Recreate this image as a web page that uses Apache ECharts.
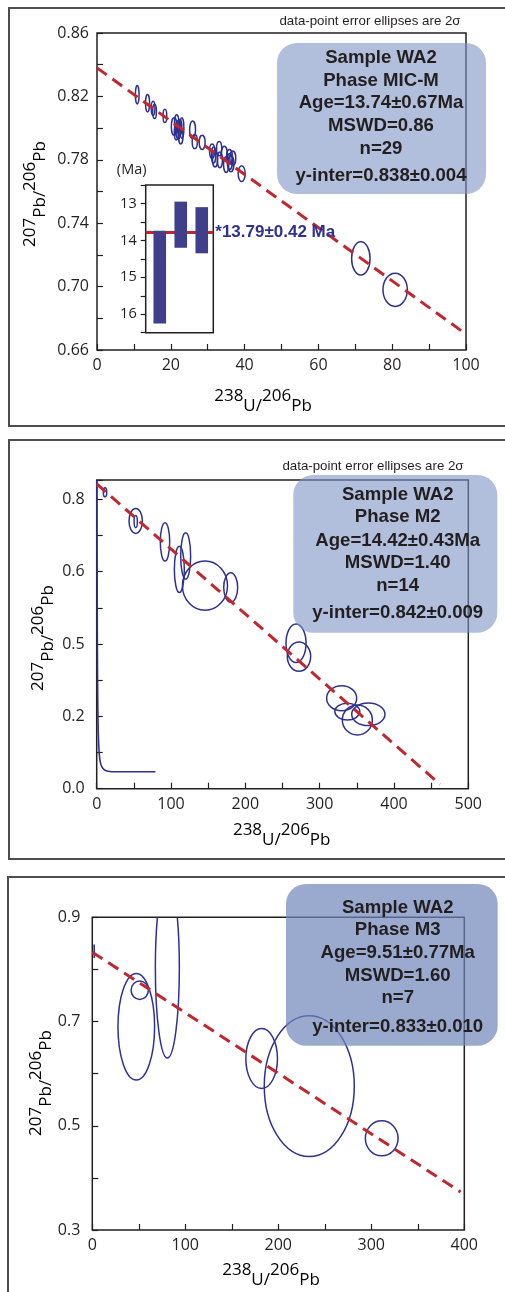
<!DOCTYPE html>
<html><head><meta charset="utf-8">
<script src="https://cdn.jsdelivr.net/npm/echarts@6/dist/echarts.min.js"></script>
<style>html,body{margin:0;padding:0;background:#fff}#c{width:505px;height:1292px}</style>
</head><body><div id="c"></div>
<script>
// ---------- Panel 1: Phase MIC-M ----------
const p1XTickLabels = ['0','20','40','60','80','100'];
const p1YTickLabels = ['0.66','0.70','0.74','0.78','0.82','0.86'];
// [x, y, rx, ry]
const p1Ellipses = [
  [10.9,0.8210,0.5,0.0058],[13.7,0.8157,0.55,0.0055],[15.2,0.8125,0.5,0.0045],[15.6,0.8105,0.5,0.0045],
  [18.4,0.8077,0.5,0.0042],[20.9,0.8010,0.75,0.0055],[21.6,0.8030,0.6,0.0055],[22.0,0.7990,0.65,0.0060],
  [22.4,0.8005,0.6,0.0050],[22.7,0.7950,0.6,0.0050],[21.5,0.7975,0.55,0.0050],[23.0,0.8000,0.55,0.0065],
  [25.9,0.7990,0.8,0.0055],[26.5,0.7915,0.7,0.0045],[28.5,0.7910,0.8,0.0045],[31.2,0.7855,0.7,0.0045],
  [31.6,0.7830,0.6,0.0050],[32.0,0.7805,0.7,0.0050],[33.1,0.7870,0.7,0.0045],[33.3,0.7800,0.7,0.0050],
  [34.5,0.7840,0.8,0.0045],[35.0,0.7770,0.7,0.0050],[35.9,0.7820,0.8,0.0045],[36.3,0.7775,0.8,0.0050],
  [36.8,0.7810,0.8,0.0045],[36.0,0.7790,0.7,0.0050],[39.2,0.7713,0.95,0.0050],
  [71.5,0.7178,2.5,0.0105],[80.8,0.6980,3.3,0.0105]
];
const p1Regression = [[0,0.838],[100,0.670]];
const p1Info = ['Sample WA2','Phase MIC-M','Age=13.74±0.67Ma','MSWD=0.86','n=29','y-inter=0.838±0.004'];
// inset (Ma)
const insetX = [1,2,3];
const insetLow = [13.74,12.95,13.10];
const insetHigh = [16.25,14.20,14.35];
const insetMean = 13.79;
const insetMeanLabel = '*13.79±0.42 Ma';
const insetTickLabels = ['13','14','15','16'];

// ---------- Panel 2: Phase M2 ----------
const p2XTickLabels = ['0','100','200','300','400','500'];
const p2YTickValues = [0,0.2,0.4,0.6,0.8];
const p2YTickLabels = ['0.0','0.2','0.5','0.6','0.8'];
const p2Ellipses = [
  [11.2,0.819,2.3,0.0124],[52.5,0.740,9,0.0345],[52.5,0.738,2.2,0.0166],[91.9,0.682,6.3,0.053],
  [111.2,0.606,6.7,0.064],[119.7,0.643,6.7,0.064],[145.7,0.561,30.3,0.068],[180.3,0.556,9.4,0.0405],
  [268.2,0.402,13.5,0.053],[272.2,0.365,15.7,0.0405],[329.6,0.250,20.2,0.0345],[337.2,0.213,16.8,0.023],
  [350.7,0.190,20.2,0.0414],[365.5,0.2055,22.4,0.031]
];
const p2Regression = [[0,0.842],[462,0.012]];
const p2Concordia = [[0.3,0.853],[0.6,0.6],[0.9,0.4],[1.4,0.25],[2.2,0.15],[3.5,0.095],[5,0.072],[7,0.060],[10,0.053],[14,0.049],[20,0.047],[79,0.047]];
const p2Info = ['Sample WA2','Phase M2','Age=14.42±0.43Ma','MSWD=1.40','n=14','y-inter=0.842±0.009'];

// ---------- Panel 3: Phase M3 ----------
const p3XTickLabels = ['0','100','200','300','400'];
const p3YTickLabels = ['0.3','0.5','0.7','0.9'];
const p3Ellipses = [
  [47.3,0.690,19.7,0.1023],[51,0.760,9.3,0.0176],[80.7,0.803,12.9,0.173],
  [182.1,0.629,17,0.0576],[233.3,0.576,48.4,0.135],[311.2,0.476,17.6,0.0336]
];
const p3Regression = [[0,0.833],[396,0.373]];
const p3Concordia = [[2.0,0.848],[2.2,0.822]];
const p3Info = ['Sample WA2','Phase M3','Age=9.51±0.77Ma','MSWD=1.60','n=7','y-inter=0.833±0.010'];

const noteText = 'data-point error ellipses are 2σ';

// ---------- helpers ----------
const INK = '#231f20', NAVY = '#2e3192', RED = '#c1272d';
const TICKFONT = 'Open Sans';
function fmt(labels, values) {
  const vals = values || labels.map(Number);
  return v => { for (let i = 0; i < vals.length; i++) if (Math.abs(vals[i] - v) < 1e-7) return labels[i]; return ''; };
}
function valAxis(gi, min, max, interval, labels, values, margin, extra) {
  return Object.assign({
    type: 'value', gridIndex: gi, min, max, interval,
    axisLine: { show: false }, splitLine: { show: false },
    axisTick: { inside: true, length: 6, lineStyle: { color: INK, width: 1.2 } },
    axisLabel: { margin, color: INK, fontFamily: TICKFONT, fontSize: 16, formatter: fmt(labels, values) }
  }, extra || {});
}
function ellipseSeries(i, data) {
  return {
    type: 'custom', xAxisIndex: i, yAxisIndex: i, data, clip: true, z: 3,
    encode: { x: 0, y: 1 },
    renderItem: (params, api) => {
      const c = api.coord([api.value(0), api.value(1)]);
      const s = api.size([api.value(2), api.value(3)]);
      return { type: 'ellipse', shape: { cx: c[0], cy: c[1], rx: s[0], ry: s[1] },
        style: { fill: 'none', stroke: NAVY, lineWidth: 1.5 } };
    }
  };
}
function regSeries(i, data) {
  return { type: 'line', xAxisIndex: i, yAxisIndex: i, data, symbol: 'none', z: 4,
    lineStyle: { color: RED, width: 3, type: [12, 7] } };
}
function concSeries(i, data) {
  return { type: 'line', xAxisIndex: i, yAxisIndex: i, data, symbol: 'none', smooth: 0.3, z: 3,
    lineStyle: { color: NAVY, width: 1.6 } };
}
const graphics = [];
function frame(x, y, w, h) {
  graphics.push({ type: 'rect', z: 1, shape: { x, y, width: w, height: h },
    style: { fill: 'none', stroke: '#4d4d4d', lineWidth: 2 } });
}
function infoBox(x, y, w, h, fill, cx, ys, lines) {
  graphics.push({ type: 'rect', z: 100, shape: { x, y, width: w, height: h, r: 20 }, style: { fill } });
  lines.forEach((t, i) => graphics.push({ type: 'text', z: 101, x: cx, y: ys[i],
    style: { text: t, font: 'bold 18.6px "Liberation Sans"', fill: INK, align: 'center', verticalAlign: 'middle', textAlign: 'center', textVerticalAlign: 'middle' } }));
}
function note(cx, cy) {
  graphics.push({ type: 'text', z: 101, x: cx, y: cy,
    style: { text: noteText, font: '13.3px "Liberation Sans"', fill: INK, align: 'center', verticalAlign: 'middle', textAlign: 'center', textVerticalAlign: 'middle' } });
}
// digits sit high, element letters sit low (as in the original typesetting)
const titleRich = {
  n: { fontFamily: TICKFONT, fontSize: 17, color: INK, padding: [0, 0, 10, 0] },
  s: { fontFamily: TICKFONT, fontSize: 17, color: INK, padding: [10, 0, 0, 0] }
};
function axisTitle(text, x, y, rot) {
  graphics.push({ type: 'text', z: 101, x, y, rotation: rot ? Math.PI / 2 : 0,
    style: { text, rich: titleRich, align: 'center', verticalAlign: 'middle', textAlign: 'center', textVerticalAlign: 'middle' } });
}
const XT = '{n|238}{s|U/}{n|206}{s|Pb}';
const YT = '{n|207}{s|Pb/}{n|206}{s|Pb}';

frame(9, 8, 520, 418);
frame(9, 440, 520, 419);
frame(8, 877, 520, 440);

note(370, 21);
note(373, 466.7);
infoBox(277, 43, 209, 151, 'rgba(127,148,197,0.6)', 381, [58, 80.5, 103, 126, 148.5, 176], p1Info);
infoBox(293.3, 475, 204, 157.7, 'rgba(127,148,197,0.6)', 397.7, [495, 517.3, 540.7, 563.3, 585.7, 613.3], p2Info);
infoBox(286, 884, 211.7, 161.7, 'rgba(111,134,186,0.7)', 397.7, [908.3, 930, 952.7, 975.7, 997.7, 1026.7], p3Info);

axisTitle(XT, 263, 401, false);
axisTitle(YT, 35, 194, true);
axisTitle(XT, 281.7, 835, false);
axisTitle(YT, 43, 638, true);
axisTitle(XT, 271, 1275, false);
axisTitle(YT, 41, 1083, true);
graphics.push({ type: 'text', z: 101, x: 131.7, y: 170,
  style: { text: '(Ma)', font: '14.5px "Open Sans"', fill: INK, align: 'center', verticalAlign: 'middle', textAlign: 'center', textVerticalAlign: 'middle' } });

const gridBase = { show: true, borderColor: INK, borderWidth: 1.5, backgroundColor: 'transparent' };
const option = {
  animation: false,
  backgroundColor: '#fff',
  grid: [
    Object.assign({ left: 97, top: 33, width: 369, height: 317 }, gridBase),
    Object.assign({ left: 145.7, top: 185, width: 67.6, height: 147.7 }, gridBase, { backgroundColor: '#fff', z: 5 }),
    Object.assign({ left: 96.7, top: 480, width: 371.6, height: 308.7 }, gridBase),
    Object.assign({ left: 92.3, top: 917.3, width: 372, height: 312.7 }, gridBase)
  ],
  xAxis: [
    valAxis(0, 0, 100, 10, p1XTickLabels, null, 7),
    { type: 'value', gridIndex: 1, min: 0.33, max: 3.55, show: false },
    valAxis(2, 0, 500, 50, p2XTickLabels, null, 8),
    valAxis(3, 0, 400, 50, p3XTickLabels, null, 7)
  ],
  yAxis: [
    valAxis(0, 0.66, 0.86, 0.02, p1YTickLabels, null, 8),
    valAxis(1, 12.5, 16.5, 0.5, insetTickLabels, null, 9, {
      inverse: true, z: 6,
      axisTick: { inside: false, length: 5, lineStyle: { color: INK, width: 1.2 } },
      axisLabel: { margin: 9, color: INK, fontFamily: TICKFONT, fontSize: 14.5, formatter: fmt(insetTickLabels) }
    }),
    valAxis(2, 0, 0.853, 0.1, p2YTickLabels, p2YTickValues, 12),
    valAxis(3, 0.3, 0.9, 0.1, p3YTickLabels, null, 12)
  ],
  graphic: { elements: graphics },
  series: [
    regSeries(0, p1Regression),
    ellipseSeries(0, p1Ellipses),
    {
      type: 'custom', xAxisIndex: 1, yAxisIndex: 1, z: 6,
      data: insetX.map((x, i) => [x, insetLow[i], insetHigh[i]]),
      encode: { x: 0, y: [1, 2] },
      renderItem: (params, api) => {
        const x = api.value(0);
        const a = api.coord([x, api.value(1)]);
        const b = api.coord([x, api.value(2)]);
        const w = api.size([0.6, 0])[0];
        return { type: 'rect', shape: { x: a[0] - w / 2, y: Math.min(a[1], b[1]), width: w, height: Math.abs(b[1] - a[1]) },
          style: { fill: '#3f3f8c' } };
      },
      markLine: {
        silent: true, symbol: 'none', animation: false,
        data: [{ yAxis: insetMean }],
        lineStyle: { color: RED, width: 3, type: 'solid' },
        label: { show: true, position: 'end', distance: 2, formatter: insetMeanLabel, color: NAVY,
          fontWeight: 'bold', fontSize: 17, fontFamily: 'Liberation Sans' }
      }
    },
    concSeries(2, p2Concordia),
    regSeries(2, p2Regression),
    ellipseSeries(2, p2Ellipses),
    concSeries(3, p3Concordia),
    regSeries(3, p3Regression),
    ellipseSeries(3, p3Ellipses)
  ]
};
const chart = echarts.init(document.getElementById('c'), null, { renderer: 'canvas' });
chart.setOption(option);
</script>
</body></html>
